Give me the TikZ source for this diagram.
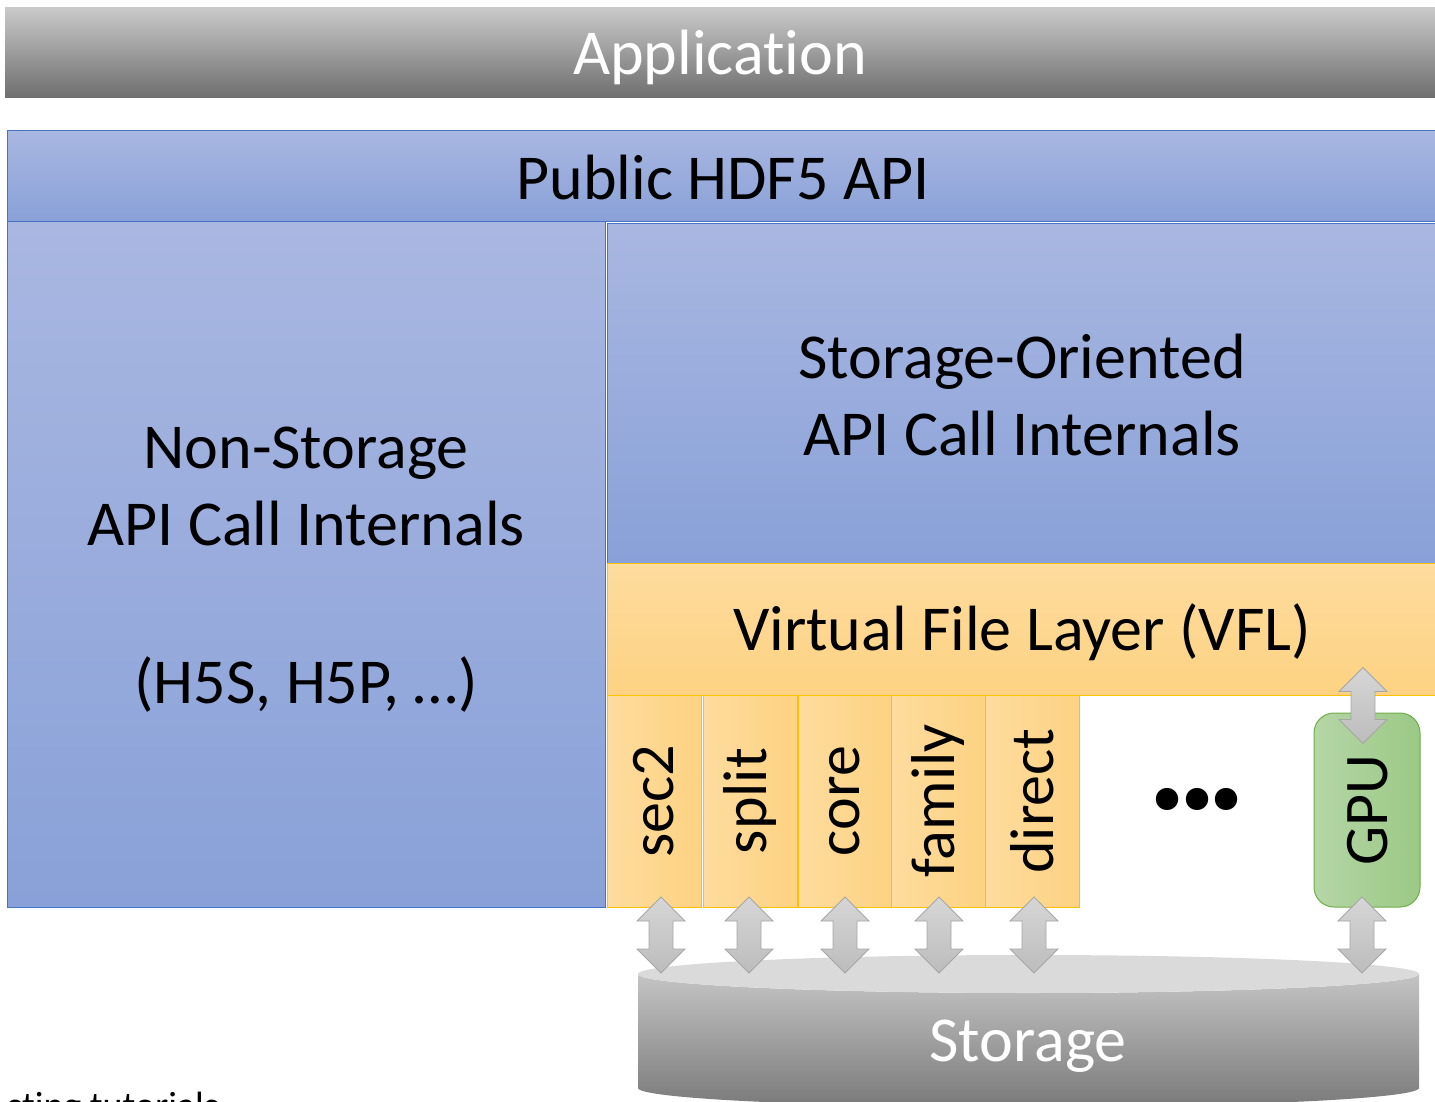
\documentclass[tikz,border=0pt]{standalone}
\usepackage{fontspec}
\setmainfont{Carlito}[Ligatures={NoCommon}]
\definecolor{apptop}{HTML}{C9C9C9}
\definecolor{appbot}{HTML}{6E6E6E}
\definecolor{bluetop}{HTML}{A9B7E1}
\definecolor{bluebot}{HTML}{89A1D8}
\definecolor{blueedge}{HTML}{4472C4}
\definecolor{vfltop}{HTML}{FEDC9E}
\definecolor{vflbot}{HTML}{FDD282}
\definecolor{goldedge}{HTML}{FFC000}
\definecolor{gpuleft}{HTML}{B5D6A6}
\definecolor{gpuright}{HTML}{9BC985}
\definecolor{gpuedge}{HTML}{70AD47}
\definecolor{cyltop}{HTML}{C4C4C4}
\definecolor{cylbot}{HTML}{7A7A7A}
\definecolor{cylface}{HTML}{DADADA}
\definecolor{arrtop}{HTML}{D6D6D6}
\definecolor{arrbot}{HTML}{BCBCBC}
\definecolor{arredge}{HTML}{A6A6A6}
\newcommand{\bigtext}{\fontsize{64}{77}\selectfont}
\newcommand{\drvtext}{\fontsize{62}{70}\selectfont}
\begin{document}
\begin{tikzpicture}[x=1pt,y=-1pt,
  layer/.style={rectangle, inner sep=0pt, outer sep=0pt, align=center, font=\bigtext},
  label/.style={inner sep=0pt, align=center, font=\bigtext},
  bluebox/.style={layer, draw=blueedge, line width=1pt, top color=bluetop, bottom color=bluebot},
  vflbox/.style={layer, draw=goldedge, line width=1pt, top color=vfltop, bottom color=vflbot},
  drvbox/.style={layer, draw=goldedge, line width=1pt, left color=vfltop, right color=vflbot,
    minimum width=94, minimum height=212},
  drvlabel/.style={rotate=90, font=\drvtext, inner sep=0pt},
  dbl/.pic={
    \path[draw=arredge, line width=0.8pt, top color=arrtop, bottom color=arrbot]
      (0,-38) -- (24,-14) -- (12,-14) -- (12,14) -- (24,14) -- (0,38)
      -- (-24,14) -- (-12,14) -- (-12,-14) -- (-24,-14) -- cycle;
  }]
\useasboundingbox (0,0) rectangle (1435,1102);

% application bar
\node[layer, minimum width=1430, minimum height=90, top color=apptop, bottom color=appbot] (app) at (720,53) {};
\node[label, text=white] at (720,57) {Application};

% public API
\node[bluebox, minimum width=1428, minimum height=91] (api) at (721,176.5) {};
\node[label] at (723,178) {Public HDF5 API};

% internals
\node[bluebox, minimum width=598, minimum height=685] (nonstor) at (306,564.5) {};
\node[label] (nonstortext) at (306,570)
  {Non-Storage\\API Call Internals\\[81pt](H5S, H5P, …)};
\node[bluebox, minimum width=828, minimum height=339] (storor) at (1021,393.5) {};
\node[label] at (1022,395) {Storage-Oriented\\API Call Internals};

% virtual file layer
\node[vflbox, minimum width=828, minimum height=132] (vfl) at (1021,629) {};
\node[label] at (1022,632) {Virtual File Layer (VFL)};

% drivers
\node[drvbox] (sec2) at (654,801) {};
\node[drvbox] (split) at (750,801) {};
\node[drvbox, minimum width=93] (core) at (844.5,801) {};
\node[drvbox] (family) at (938,801) {};
\node[drvbox] (direct) at (1032,801) {};
\node[drvlabel] at (sec2) {sec2};
\node[drvlabel] at (split) {split};
\node[drvlabel] at (core) {core};
\node[drvlabel] at (family) {family};
\node[drvlabel] at (direct) {direct};

\node[anchor=base, font=\fontsize{150}{150}\bfseries, inner sep=0pt] (dots) at (1197,809)
  {.\kern-11pt.\kern-11pt.};

\node[layer, draw=gpuedge, line width=1pt, rounded corners=20pt, left color=gpuleft,
  right color=gpuright, minimum width=106, minimum height=194] (gpu) at (1367,810) {};
\node[drvlabel] at (1368,810) {GPU};

% storage cylinder
\path[top color=cyltop, bottom color=cylbot]
  (638,974) -- (638,1088) arc[start angle=180, end angle=0, x radius=390.5, y radius=19]
  -- (1419,974) arc[start angle=0, end angle=180, x radius=390.5, y radius=19] -- cycle;
\fill[cylface] (1028.5,974) ellipse[x radius=390.5, y radius=19];
\node[label, text=white] (storage) at (1028,1046) {Storage};

% driver-to-storage links
\pic at (661,935) {dbl};
\pic at (749,935) {dbl};
\pic at (845,935) {dbl};
\pic at (939,935) {dbl};
\pic at (1034,935) {dbl};
\pic at (1363,705.5) {dbl};
\pic at (1362,935) {dbl};

% caption running off the page
\node[anchor=base east, font=\fontsize{38}{40}\selectfont, inner sep=0pt] (cap) at (219,1118) {cting tutorials};
\end{tikzpicture}
\end{document}
